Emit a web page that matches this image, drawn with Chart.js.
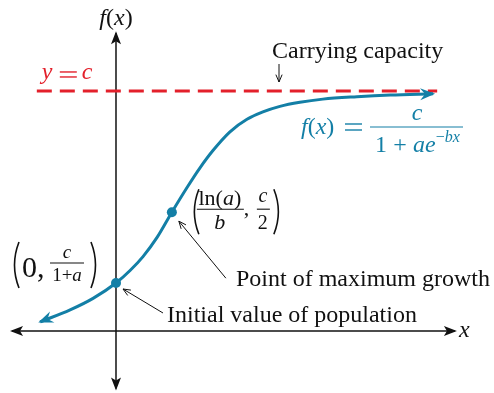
<!DOCTYPE html>
<html>
<head>
<meta charset="utf-8">
<script src="https://cdn.jsdelivr.net/npm/chart.js@4.4.1/dist/chart.umd.min.js"></script>
<style>
  html, body { margin: 0; padding: 0; background: #fff; }
  canvas { display: block; }
</style>
</head>
<body>
<canvas id="chart" width="494" height="393"></canvas>
<script>
// curve (x in units of 1/b, y in units where c = 10)
const curveX = [-2.05, -1.24, -0.62, 0, 0.38, 0.73, 1.11, 1.51, 1.92, 2.27, 2.62, 3.08, 3.54, 3.97, 4.43, 4.97, 5.59, 6.51, 7.41, 8.57];
const curveY = [0.38, 0.88, 1.36, 2.0, 2.52, 3.1, 3.9, 4.95, 5.98, 6.8, 7.52, 8.3, 8.82, 9.13, 9.36, 9.53, 9.66, 9.76, 9.83, 9.88];

// initial value and point of maximum growth
const keyX = [0, 1.51];
const keyY = [2.0, 4.95];

// carrying capacity line
const capacity = 10;
const capacityX = [-2.14, 8.68];

// axis extents
const xAxisRange = [-2.81, 9.16];
const yAxisRange = [-2.4, 12.4];

const BLUE = '#137fa6';
const RED = '#e3202b';
const SERIF = "'Liberation Serif', 'DejaVu Serif', serif";

const pts = (xs, ys) => xs.map((x, i) => ({ x, y: ys[i] }));

// draws a filled (notched) arrowhead at the end of a segment
const arrowHead = (ctx, from, to, color, len, half, notch) => {
    const a = Math.atan2(to.y - from.y, to.x - from.x);
    ctx.save();
    ctx.translate(to.x, to.y);
    ctx.rotate(a);
    ctx.fillStyle = color;
    ctx.beginPath();
    ctx.moveTo(2, 0);
    ctx.lineTo(2 - len, -half);
    ctx.lineTo(2 - len + notch, 0);
    ctx.lineTo(2 - len, half);
    ctx.closePath();
    ctx.fill();
    ctx.restore();
};

// thin pointer line with an open head
const pointer = (ctx, x1, y1, x2, y2) => {
    const a = Math.atan2(y2 - y1, x2 - x1);
    ctx.save();
    ctx.strokeStyle = '#111';
    ctx.lineWidth = 1;
    ctx.beginPath();
    ctx.moveTo(x1, y1);
    ctx.lineTo(x2, y2);
    ctx.moveTo(x2 - 8 * Math.cos(a - 0.4), y2 - 8 * Math.sin(a - 0.4));
    ctx.lineTo(x2, y2);
    ctx.lineTo(x2 - 8 * Math.cos(a + 0.4), y2 - 8 * Math.sin(a + 0.4));
    ctx.stroke();
    ctx.restore();
};

// text made of runs: [text, italic?]
const runs = (ctx, parts, x, y, size, color, align) => {
    ctx.save();
    ctx.fillStyle = color;
    ctx.textBaseline = 'alphabetic';
    ctx.textAlign = 'left';
    const fonts = parts.map(p => (p[1] ? 'italic ' : '') + size + 'px ' + SERIF);
    const widths = parts.map((p, i) => { ctx.font = fonts[i]; return ctx.measureText(p[0]).width; });
    const total = widths.reduce((s, w) => s + w, 0);
    let cx = align === 'center' ? x - total / 2 : x;
    parts.forEach((p, i) => {
        ctx.font = fonts[i];
        ctx.fillText(p[0], cx, y);
        cx += widths[i];
    });
    ctx.restore();
    return cx;
};

const hbar = (ctx, x1, x2, y, color, w) => {
    ctx.save();
    ctx.strokeStyle = color;
    ctx.lineWidth = w || 1.1;
    ctx.beginPath();
    ctx.moveTo(x1, y);
    ctx.lineTo(x2, y);
    ctx.stroke();
    ctx.restore();
};

// wide equals sign, like the math font of the picture
const equals = (ctx, x1, x2, y1, y2, color) => {
    hbar(ctx, x1, x2, y1, color, 1.4);
    hbar(ctx, x1, x2, y2, color, 1.4);
};

const paren = (ctx, x, top, bottom, dir) => {
    const h = bottom - top;
    ctx.save();
    ctx.strokeStyle = '#111';
    ctx.lineWidth = 1.6;
    ctx.beginPath();
    ctx.moveTo(x + dir * 5, top);
    ctx.quadraticCurveTo(x - dir * 4, top + h / 2, x + dir * 5, bottom);
    ctx.stroke();
    ctx.restore();
};

const labels = {
    id: 'labels',
    afterDatasetsDraw(chart) {
        const ctx = chart.ctx;
        const m = i => chart.getDatasetMeta(i).data;

        // arrowheads
        const c = m(0);
        arrowHead(ctx, c[c.length - 2], c[c.length - 1], BLUE, 15, 6, 5);
        arrowHead(ctx, c[1], c[0], BLUE, 15, 6, 5);
        const xa = m(3), ya = m(4);
        arrowHead(ctx, xa[1], xa[0], '#111', 13, 5, 3);
        arrowHead(ctx, xa[0], xa[1], '#111', 13, 5, 3);
        arrowHead(ctx, ya[1], ya[0], '#111', 13, 5, 3);
        arrowHead(ctx, ya[0], ya[1], '#111', 13, 5, 3);

        const top = ya[1], right = xa[1];
        runs(ctx, [['f', true], ['(', false], ['x', true], [')', false]], top.x, top.y - 8, 24, '#111', 'center');
        runs(ctx, [['x', true]], right.x + 4, right.y + 6, 24, '#111');

        // carrying capacity
        const cap = m(2)[0];
        runs(ctx, [['y', true]], cap.x + 5, cap.y - 12, 24, RED);
        equals(ctx, cap.x + 23, cap.x + 40, cap.y - 19, cap.y - 14, RED);
        runs(ctx, [['c', true]], cap.x + 45, cap.y - 12, 24, RED);
        runs(ctx, [['Carrying capacity', false]], 272, 58, 24, '#111');
        pointer(ctx, 279, 64, 279, 82);

        // formula
        runs(ctx, [['f', true], ['(', false], ['x', true], [')', false]], 301, 134, 24, BLUE);
        equals(ctx, 345, 362, 124, 130, BLUE);
        hbar(ctx, 370, 463, 127, BLUE, 1.2);
        runs(ctx, [['c', true]], 417, 120, 24, BLUE, 'center');
        runs(ctx, [['1', false]], 375, 152, 24, BLUE);
        runs(ctx, [['+', false]], 400, 152, 24, BLUE, 'center');
        const fx = runs(ctx, [['ae', true]], 413, 152, 24, BLUE);
        runs(ctx, [['\u2212', false], ['bx', true]], fx, 142, 16, BLUE);

        // point of maximum growth
        const p = m(1)[1];
        paren(ctx, p.x + 22, p.y - 23, p.y + 22, 1);
        runs(ctx, [['ln(', false], ['a', true], [')', false]], p.x + 48, p.y - 7, 22, '#111', 'center');
        hbar(ctx, p.x + 25, p.x + 72, p.y - 3, '#111');
        runs(ctx, [['b', true]], p.x + 48, p.y + 17, 22, '#111', 'center');
        runs(ctx, [[',', false]], p.x + 72, p.y + 3, 22, '#111');
        runs(ctx, [['c', true]], p.x + 91, p.y - 10, 20, '#111', 'center');
        hbar(ctx, p.x + 85, p.x + 98, p.y - 3, '#111');
        runs(ctx, [['2', false]], p.x + 91, p.y + 17, 20, '#111', 'center');
        paren(ctx, p.x + 107, p.y - 23, p.y + 22, -1);
        pointer(ctx, p.x + 54, p.y + 66, p.x + 7, p.y + 9);
        runs(ctx, [['Point of maximum growth', false]], 236, 286, 24, '#111');

        // initial value
        const q = m(1)[0];
        paren(ctx, q.x - 102, q.y - 41, q.y + 5, 1);
        runs(ctx, [['0,', false]], q.x - 94, q.y - 6, 30, '#111');
        runs(ctx, [['c', true]], q.x - 49, q.y - 25, 19, '#111', 'center');
        hbar(ctx, q.x - 66, q.x - 32, q.y - 20, '#111');
        runs(ctx, [['1+', false], ['a', true]], q.x - 49, q.y - 2, 19, '#111', 'center');
        paren(ctx, q.x - 20, q.y - 41, q.y + 5, -1);
        pointer(ctx, q.x + 47, q.y + 30, q.x + 7, q.y + 6);
        runs(ctx, [['Initial value of population', false]], 167, 322, 24, '#111');
    }
};

new Chart(document.getElementById('chart'), {
    type: 'line',
    data: {
        datasets: [
            { data: pts(curveX, curveY), borderColor: BLUE, borderWidth: 3, pointRadius: 0, cubicInterpolationMode: 'monotone', borderCapStyle: 'butt' },
            { type: 'scatter', data: pts(keyX, keyY), backgroundColor: BLUE, borderWidth: 0, pointRadius: 5 },
            { data: pts(capacityX, [capacity, capacity]), borderColor: RED, borderWidth: 3, borderDash: [15, 8], pointRadius: 0 },
            { data: pts(xAxisRange, [0, 0]), borderColor: '#111', borderWidth: 1.5, pointRadius: 0 },
            { data: pts([0, 0], yAxisRange), borderColor: '#111', borderWidth: 1.5, pointRadius: 0 }
        ]
    },
    options: {
        responsive: false,
        animation: false,
        layout: { padding: 0, autoPadding: false },
        plugins: { legend: { display: false }, tooltip: { enabled: false } },
        scales: {
            x: { type: 'linear', min: -3.135, max: 10.216, display: false },
            y: { type: 'linear', min: -2.583, max: 13.79, display: false }
        }
    },
    plugins: [labels]
});
</script>
</body>
</html>
